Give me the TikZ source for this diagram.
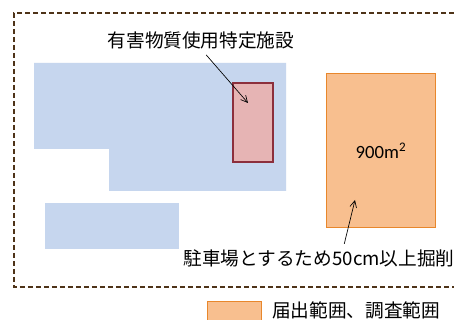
\documentclass[tikz,border=0pt]{standalone}
\usepackage{fontspec}
\setmainfont{Carlito}
\newfontfamily\jpfont{Noto Sans CJK JP}
\usetikzlibrary{arrows.meta}
\definecolor{siteblue}{HTML}{C6D6EE}
\definecolor{facfill}{HTML}{E6B4B4}
\definecolor{facline}{HTML}{8C2F3C}
\definecolor{areafill}{HTML}{F8BF8F}
\definecolor{arealine}{HTML}{E8872C}
\definecolor{frameline}{HTML}{4E3318}
\begin{document}
\begin{tikzpicture}[x=0.75pt,y=-0.75pt,
  jptext/.style={font=\jpfont\fontsize{14pt}{16pt}\selectfont,inner sep=0pt},
  pointer/.style={-{Straight Barb[length=5pt,width=5pt]},line width=0.5pt}]
\useasboundingbox [fill=white] (0, 0) rectangle (454, 320);

% site boundary
\draw [frameline,line width=1.3pt,dash pattern=on 4pt off 2pt] (470, 13) -- (14, 13) -- (14, 287) -- (470, 287);

% buildings
\fill [siteblue] (34, 63) -- (286, 63) -- (286, 191) -- (109, 191) -- (109, 149) -- (34, 149) -- cycle;
\fill [siteblue] (45, 203) rectangle (179, 249);

\node (facility) at (252.5, 122.5) [draw=facline,fill=facfill,line width=1.5pt,minimum width=30pt,minimum height=59pt,inner sep=0pt] {};
\node (area) at (381, 150.5) [draw=arealine,fill=areafill,line width=0.8pt,minimum width=82pt,minimum height=116pt,inner sep=0pt] {};
\node at (area.center) [font=\fontsize{14pt}{16pt}\selectfont] {900m\textsuperscript{2}};

\node (title) at (201, 40) [jptext] {有害物質使用特定施設};
\node (parking) at (319, 258) [jptext] {駐車場とするため50cm以上掘削};
\coordinate (factip) at (248, 103);
\coordinate (areatip) at (355, 200);

\draw [pointer,shorten <=6pt] (title.south) -- (factip);
\draw [pointer,shorten <=4pt] ([xshift=18pt]parking.north) -- (areatip);

% legend
\node (key) at (234.5, 312) [draw=arealine,fill=areafill,line width=0.8pt,minimum width=41pt,minimum height=16pt,inner sep=0pt] {};
\node (keytext) at (272, 310) [jptext,anchor=west] {届出範囲、調査範囲};
\end{tikzpicture}
\end{document}
